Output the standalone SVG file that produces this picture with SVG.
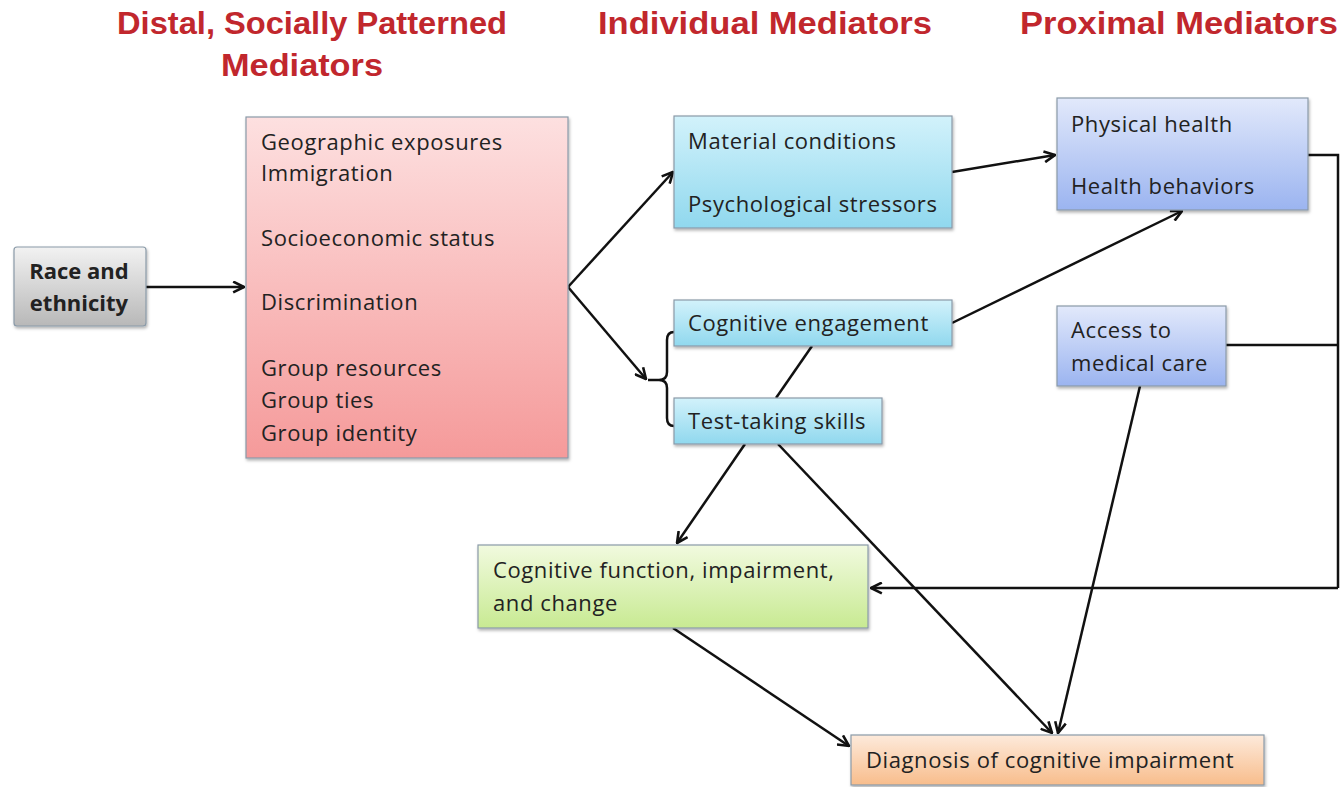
<svg xmlns="http://www.w3.org/2000/svg" width="1340" height="787" viewBox="0 0 1340 787">
<defs>
<linearGradient id="gGray" x1="0" y1="0" x2="0" y2="1"><stop offset="0" stop-color="#f2f2f2"/><stop offset="1" stop-color="#b8b8b8"/></linearGradient>
<linearGradient id="gPink" x1="0" y1="0" x2="0" y2="1"><stop offset="0" stop-color="#fde0e0"/><stop offset="1" stop-color="#f59a9a"/></linearGradient>
<linearGradient id="gCyan" x1="0" y1="0" x2="0" y2="1"><stop offset="0" stop-color="#d2f2fb"/><stop offset="1" stop-color="#90d8ee"/></linearGradient>
<linearGradient id="gBlue" x1="0" y1="0" x2="0" y2="1"><stop offset="0" stop-color="#e2e9fb"/><stop offset="1" stop-color="#9bb4f0"/></linearGradient>
<linearGradient id="gGreen" x1="0" y1="0" x2="0" y2="1"><stop offset="0" stop-color="#f1fadf"/><stop offset="1" stop-color="#c8ea92"/></linearGradient>
<linearGradient id="gOrange" x1="0" y1="0" x2="0" y2="1"><stop offset="0" stop-color="#fdeadb"/><stop offset="1" stop-color="#f8bd8c"/></linearGradient>
<filter id="sh" x="-10%" y="-10%" width="120%" height="130%"><feDropShadow dx="1" dy="2" stdDeviation="1.5" flood-color="#000" flood-opacity="0.3"/></filter>
<marker id="ah" viewBox="0 0 12 12" refX="11" refY="6" markerWidth="13" markerHeight="13" markerUnits="userSpaceOnUse" orient="auto"><path d="M1,1 L11,6 L1,11" fill="none" stroke="#111" stroke-width="2.4"/></marker>
</defs>
<style>
.hdr{font-family:"Liberation Sans",Arial,sans-serif;font-weight:bold;font-size:31px;fill:#c1272d;text-anchor:middle}
.box{stroke:#8a9aa8;stroke-width:1.2;filter:url(#sh)}
.t{font-family:"Open Sans","Liberation Sans",sans-serif;font-size:22px;letter-spacing:0.6px;fill:#222}
.tb{font-family:"Open Sans","Liberation Sans",sans-serif;font-size:22px;font-weight:bold;fill:#222}
.c{stroke:#111;stroke-width:2.5;fill:none}
.a{stroke:#111;stroke-width:2.5;fill:none;marker-end:url(#ah)}
</style>
<rect width="1340" height="787" fill="#ffffff"/>
<g id="headers">
<text class="hdr" x="312" y="34" textLength="390" lengthAdjust="spacingAndGlyphs">Distal, Socially Patterned</text>
<text class="hdr" x="302" y="76" textLength="162" lengthAdjust="spacingAndGlyphs">Mediators</text>
<text class="hdr" x="765" y="34" textLength="334" lengthAdjust="spacingAndGlyphs">Individual Mediators</text>
<text class="hdr" x="1179" y="34" textLength="318" lengthAdjust="spacingAndGlyphs">Proximal Mediators</text>
</g>
<g id="connectors">
<path class="a" d="M146,287 L244,287"/>
<path class="a" d="M568,287 L673,172"/>
<path class="a" d="M568,287 L646,379"/>
<path class="c" d="M674,332 Q667,332 667,340 L667,372 Q667,380 659,380 L648,380 M659,380 Q667,380 667,388 L667,418 Q667,426 674,426" stroke-width="2"/>
<path class="c" d="M812,346 L776,398" stroke-width="2"/>
<path class="a" d="M952,172 L1055,155"/>
<path class="a" d="M952,323 L1182,211"/>
<path class="c" d="M1308,155 L1338,155 L1338,588"/>
<path class="c" d="M1226,345 L1338,345"/>
<path class="a" d="M1338,588 L871,588"/>
<path class="a" d="M1140,386 L1058,733"/>
<path class="a" d="M745,444 L677,543"/>
<path class="a" d="M778,444 L1052,733"/>
<path class="a" d="M673,628 L849,746"/>
</g>
<g id="race">
<rect class="box" x="14" y="247" width="132" height="79" rx="3" fill="url(#gGray)"/>
<text class="tb" x="79" y="279" text-anchor="middle">Race and</text>
<text class="tb" x="79" y="311" text-anchor="middle">ethnicity</text>
</g>
<g id="distal">
<rect class="box" x="246" y="117" width="322" height="341" fill="url(#gPink)"/>
<text class="t" x="261" y="150">Geographic exposures</text>
<text class="t" x="261" y="181">Immigration</text>
<text class="t" x="261" y="246">Socioeconomic status</text>
<text class="t" x="261" y="310">Discrimination</text>
<text class="t" x="261" y="376">Group resources</text>
<text class="t" x="261" y="408">Group ties</text>
<text class="t" x="261" y="441">Group identity</text>
</g>
<g id="material">
<rect class="box" x="674" y="116" width="278" height="112" fill="url(#gCyan)"/>
<text class="t" x="688" y="149">Material conditions</text>
<text class="t" x="688" y="212">Psychological stressors</text>
</g>
<g id="cogeng">
<rect class="box" x="674" y="300" width="278" height="46" fill="url(#gCyan)"/>
<text class="t" x="688" y="331">Cognitive engagement</text>
</g>
<g id="testtaking">
<rect class="box" x="674" y="398" width="208" height="46" fill="url(#gCyan)"/>
<text class="t" x="688" y="429">Test-taking skills</text>
</g>
<g id="physical">
<rect class="box" x="1057" y="98" width="251" height="112" fill="url(#gBlue)"/>
<text class="t" x="1071" y="132">Physical health</text>
<text class="t" x="1071" y="194">Health behaviors</text>
</g>
<g id="access">
<rect class="box" x="1057" y="306" width="169" height="80" fill="url(#gBlue)"/>
<text class="t" x="1071" y="338">Access to</text>
<text class="t" x="1071" y="371">medical care</text>
</g>
<g id="cogfunc">
<rect class="box" x="478" y="545" width="390" height="83" fill="url(#gGreen)"/>
<text class="t" x="493" y="578">Cognitive function, impairment,</text>
<text class="t" x="493" y="611">and change</text>
</g>
<g id="diagnosis">
<rect class="box" x="851" y="735" width="413" height="50" fill="url(#gOrange)"/>
<text class="t" x="866" y="768">Diagnosis of cognitive impairment</text>
</g>
</svg>
